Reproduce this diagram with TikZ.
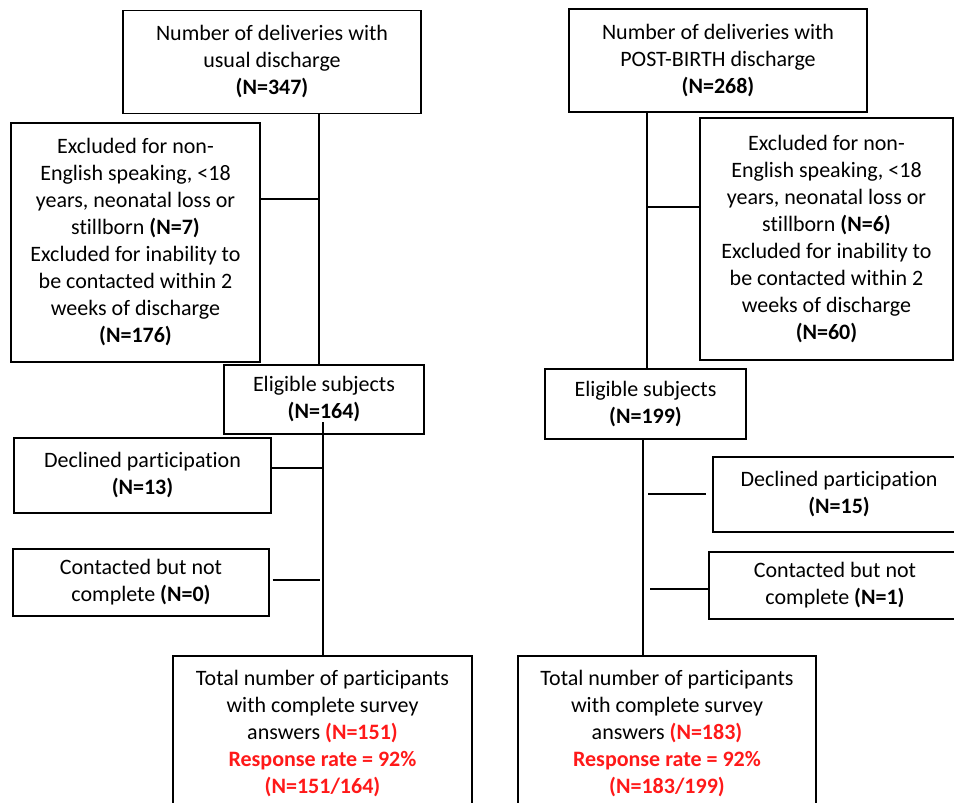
\documentclass[tikz,border=0pt]{standalone}
\usepackage{fontspec}
\setmainfont{Carlito}[RawFeature={-liga;-clig;-dlig;-calt}]
\definecolor{rd}{RGB}{255,25,25}
\begin{document}
\begin{tikzpicture}[x=1pt,y=-1pt,
  box/.style={draw, line width=1.2pt, inner sep=0pt, align=center, font=\fontsize{22}{27}\selectfont},
  link/.style={line width=1.2pt}]
\useasboundingbox (0,0) rectangle (954,803);
\clip (0,0) rectangle (954,803);
% left column
\node[box, minimum width=298pt, minimum height=103pt] (b1L) at (272,62) {Number of deliveries with\\usual discharge\\\textbf{(N=347)}};
\node[box, minimum width=249pt, minimum height=239pt] (exL) at (135.5,242.5) {Excluded for non-\\English speaking, <18\\years, neonatal loss or\\stillborn \textbf{(N=7)}\\Excluded for inability to\\be contacted within 2\\weeks of discharge\\\textbf{(N=176)}};
\node[box, minimum width=200pt, minimum height=69pt] (elL) at (324,399.5) {Eligible subjects\\\textbf{(N=164)}};
\node[box, minimum width=257pt, minimum height=75pt] (deL) at (142.5,475.5) {Declined participation\\\textbf{(N=13)}};
\node[box, minimum width=256pt, minimum height=67pt] (coL) at (141,582.5) {Contacted but not\\complete \textbf{(N=0)}};
\node[box, minimum width=299pt, minimum height=155pt] (toL) at (322.5,733.5) {Total number of participants\\with complete survey\\answers \textcolor{rd}{\textbf{(N=151)}}\\\textcolor{rd}{\textbf{Response rate = 92\%}}\\\textcolor{rd}{\textbf{(N=151/164)}}};
% right column
\node[box, minimum width=298pt, minimum height=103pt] (b1R) at (718,60.5) {Number of deliveries with\\POST-BIRTH discharge\\\textbf{(N=268)}};
\node[box, minimum width=253pt, minimum height=242pt] (exR) at (826.5,239) {Excluded for non-\\English speaking, <18\\years, neonatal loss or\\stillborn \textbf{(N=6)}\\Excluded for inability to\\be contacted within 2\\weeks of discharge\\\textbf{(N=60)}};
\node[box, minimum width=201pt, minimum height=70pt] (elR) at (645.5,404) {Eligible subjects\\\textbf{(N=199)}};
\node[box, minimum width=252pt, minimum height=75pt] (deR) at (839,494.5) {Declined participation\\\textbf{(N=15)}};
\node[box, minimum width=252pt, minimum height=67pt] (coR) at (835,585.5) {Contacted but not\\complete \textbf{(N=1)}};
\node[box, minimum width=298pt, minimum height=155pt] (toR) at (667,733.5) {Total number of participants\\with complete survey\\answers \textcolor{rd}{\textbf{(N=183)}}\\\textcolor{rd}{\textbf{Response rate = 92\%}}\\\textcolor{rd}{\textbf{(N=183/199)}}};
% left connectors
\coordinate (vL1) at (319,0);
\draw[link] (b1L.south -| vL1) -- (elL.north -| vL1);
\coordinate (jL1) at (319,199);
\draw[link] (exL.east |- jL1) -- (jL1);
\coordinate (sL) at (323,422);
\draw[link] (sL) -- (toL.north -| sL);
\coordinate (jL2) at (323,468);
\draw[link] (deL.east |- jL2) -- (jL2);
\coordinate (jL3) at (320,580);
\draw[link] ([xshift=3pt]coL.east |- jL3) -- (jL3);
% right connectors
\coordinate (vR1) at (647,0);
\draw[link] (b1R.south -| vR1) -- (elR.north -| vR1);
\coordinate (jR1) at (647,207);
\draw[link] (jR1) -- (exR.west |- jR1);
\coordinate (vR2) at (643,0);
\draw[link] (elR.south -| vR2) -- (toR.north -| vR2);
\coordinate (jR2) at (648,494);
\draw[link] (jR2) -- ([xshift=-6pt]deR.west |- jR2);
\coordinate (jR3) at (650,589);
\draw[link] (jR3) -- (coR.west |- jR3);
\end{tikzpicture}
\end{document}
